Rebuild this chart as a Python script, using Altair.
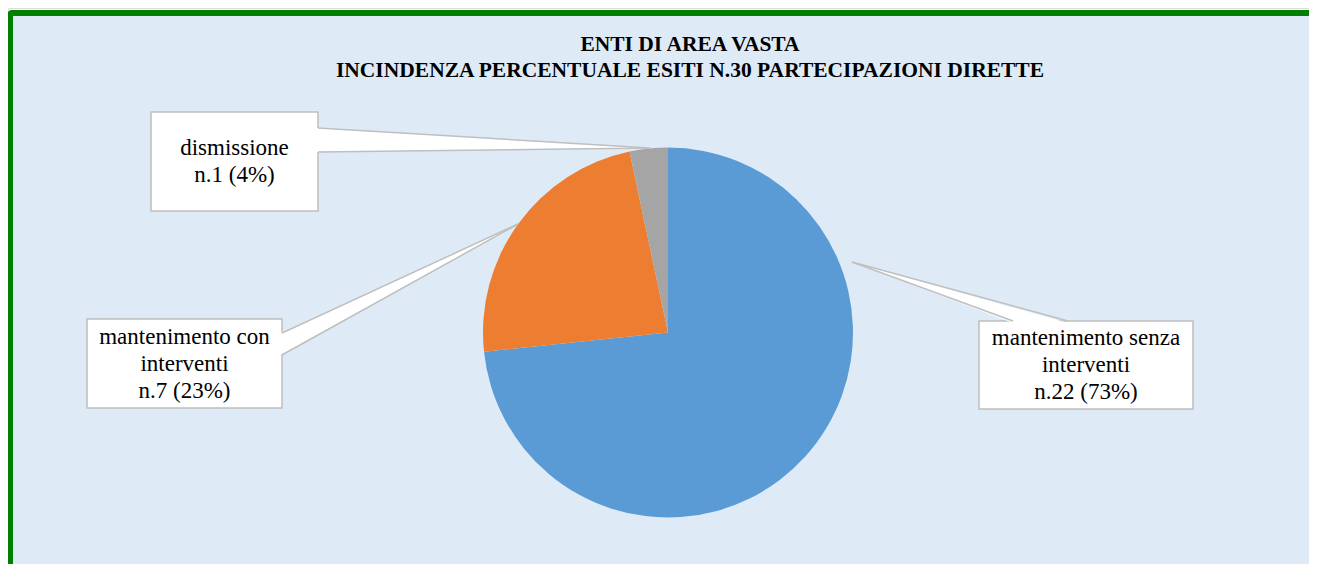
import altair as alt
import pandas as pd

# ---------------- data ----------------
categories = ["mantenimento senza interventi", "mantenimento con interventi", "dismissione"]
counts = [22, 7, 1]
pct_labels = [73, 23, 4]
label_lines = [["mantenimento senza", "interventi"], ["mantenimento con", "interventi"], ["dismissione"]]
colors = ["#5B9BD5", "#ED7D31", "#A5A5A5"]
title_lines = ["ENTI DI AREA VASTA", "INCINDENZA PERCENTUALE ESITI N.30 PARTECIPAZIONI DIRETTE"]

# ---------------- layout (page pixels) ----------------
OFF = 8
W, H = 1301, 556
PIE_C = (668, 332.5)
PIE_R = 185
boxes = {  # x0, y0, x1, y1
    "mantenimento senza interventi": (979, 321, 1193, 409),
    "mantenimento con interventi": (87, 319, 282, 408),
    "dismissione": (151, 112, 318, 211),
}
# wedge: ("v", base_x, y_a, y_b, tip) for vertical base; ("h", base_y, x_a, x_b, tip)
wedges = {
    "mantenimento senza interventi": ("h", 321, 1013, 1068, (852, 262)),
    "mantenimento con interventi": ("v", 282, 333, 355, (518, 224)),
    "dismissione": ("v", 318, 128, 152, (650, 148)),
}
LINE_H = 27
FONT = "Liberation Serif"

xs = alt.Scale(domain=[0, W], nice=False, zero=False)
ys = alt.Scale(domain=[0, H], nice=False, zero=False, reverse=True)


def P(v):
    return v - OFF


# frame
frame = alt.Chart(pd.DataFrame({"a": [0]})).mark_rect(
    fill="#DEEBF7", stroke="#008000", strokeWidth=6, cornerRadius=2
).encode(x=alt.value(P(10)), x2=alt.value(1400), y=alt.value(P(13)), y2=alt.value(800))

# pie
pie_df = pd.DataFrame({"category": categories, "count": counts, "ord": list(range(len(categories)))})
pie = alt.Chart(pie_df).mark_arc(outerRadius=PIE_R).encode(
    theta=alt.Theta("count:Q", stack=True),
    color=alt.Color("category:N", scale=alt.Scale(domain=categories, range=colors), legend=None),
    order=alt.Order("ord:Q"),
    x=alt.value(P(PIE_C[0])),
    y=alt.value(P(PIE_C[1])),
)

# boxes
box_df = pd.DataFrame([
    {"x": P(b[0]), "y": P(b[1]), "x2": P(b[2]), "y2": P(b[3])} for b in boxes.values()
])
box_layer = alt.Chart(box_df).mark_rect(fill="white", stroke="#BFBFBF", strokeWidth=1.5).encode(
    x=alt.X("x:Q", scale=xs, axis=None), x2="x2:Q",
    y=alt.Y("y:Q", scale=ys, axis=None), y2="y2:Q",
)

# wedge fills + edges
wedge_layers = []
edges = []
for cat in categories:
    kind, base, a, b, tip = wedges[cat]
    if kind == "v":
        inset = base - 2 if tip[0] > base else base + 2
        d = pd.DataFrame({"x": [P(inset), P(tip[0])], "y": [P(a), P(tip[1])], "y2": [P(b), P(tip[1])]})
        wedge_layers.append(alt.Chart(d).mark_area(orient="vertical", fill="white", opacity=1).encode(
            x=alt.X("x:Q", scale=xs, axis=None),
            y=alt.Y("y:Q", scale=ys, axis=None), y2="y2:Q",
        ))
        edges.append({"x": P(base), "y": P(a), "x2": P(tip[0]), "y2": P(tip[1])})
        edges.append({"x": P(base), "y": P(b), "x2": P(tip[0]), "y2": P(tip[1])})
    else:
        inset = base + 2 if tip[1] < base else base - 2
        d = pd.DataFrame({"y": [P(tip[1]), P(inset)], "x": [P(tip[0]), P(a)], "x2": [P(tip[0]), P(b)]})
        wedge_layers.append(alt.Chart(d).mark_area(orient="horizontal", fill="white", opacity=1).encode(
            y=alt.Y("y:Q", scale=ys, axis=None),
            x=alt.X("x:Q", scale=xs, axis=None), x2="x2:Q",
        ))
        edges.append({"x": P(a), "y": P(base), "x2": P(tip[0]), "y2": P(tip[1])})
        edges.append({"x": P(b), "y": P(base), "x2": P(tip[0]), "y2": P(tip[1])})

edge_layer = alt.Chart(pd.DataFrame(edges)).mark_rule(color="#BFBFBF", strokeWidth=1.5).encode(
    x=alt.X("x:Q", scale=xs, axis=None), x2="x2:Q",
    y=alt.Y("y:Q", scale=ys, axis=None), y2="y2:Q",
)

# label texts
rows = []
for i, cat in enumerate(categories):
    lines = label_lines[i] + [f"n.{counts[i]} ({pct_labels[i]}%)"]
    x0, y0, x1, y1 = boxes[cat]
    cx, cy = (x0 + x1) / 2, (y0 + y1) / 2
    n = len(lines)
    for j, t in enumerate(lines):
        rows.append({"x": P(cx), "y": P(cy + (j - (n - 1) / 2) * LINE_H), "t": t})
text_layer = alt.Chart(pd.DataFrame(rows)).mark_text(
    font=FONT, fontSize=23, color="black", align="center", baseline="middle"
).encode(
    x=alt.X("x:Q", scale=xs, axis=None),
    y=alt.Y("y:Q", scale=ys, axis=None),
    text="t:N",
)

# title
title_df = pd.DataFrame({"x": [P(690), P(690)], "y": [P(45), P(71)], "t": title_lines})
title_layer = alt.Chart(title_df).mark_text(
    font=FONT, fontSize=21.5, fontWeight="bold", color="black", align="center", baseline="middle"
).encode(
    x=alt.X("x:Q", scale=xs, axis=None),
    y=alt.Y("y:Q", scale=ys, axis=None),
    text="t:N",
)

chart = alt.layer(
    frame, pie, box_layer, *wedge_layers, edge_layer, text_layer, title_layer
).properties(
    width=W, height=H, padding=0, autosize=alt.AutoSizeParams(type="none")
).configure_view(stroke=None).configure(background="white")

chart.save("out.html", embed_options={"renderer": "svg", "actions": False})
